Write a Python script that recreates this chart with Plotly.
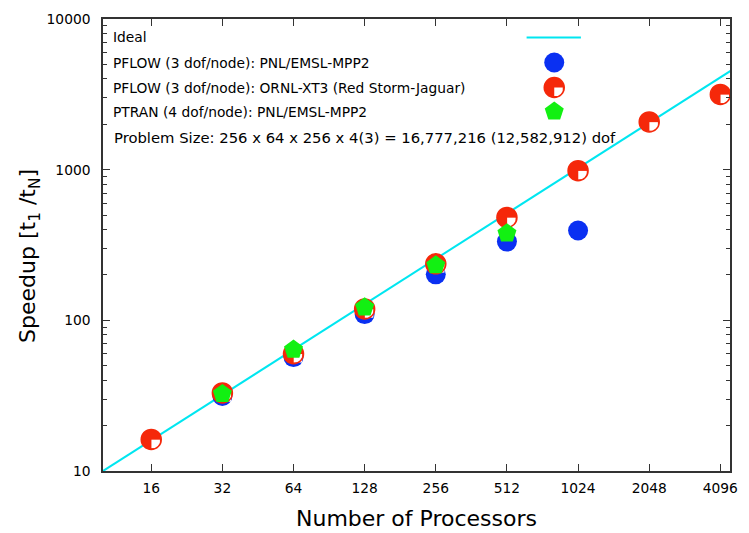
import math
import plotly.graph_objects as go

# ---------------- data ----------------
procs_mpp2 = [32, 64, 128, 256, 512, 1024]
speedup_pflow_mpp2 = [31.5, 57, 110, 202, 333, 395]

procs_xt3 = [16, 32, 64, 128, 256, 512, 1024, 2048, 4096]
speedup_pflow_xt3 = [16.2, 33, 60, 119, 237, 482, 985, 2075, 3160]

procs_ptran = [32, 64, 128, 256, 512]
speedup_ptran = [32.5, 64, 122, 232, 378]

ideal_procs = [1, 10000]
ideal_speedup = [1, 10000]

x_tick_vals = [16, 32, 64, 128, 256, 512, 1024, 2048, 4096]
x_tick_text = ["16", "32", "64", "128", "256", "512", "1024", "2048", "4096"]
y_tick_vals = [10, 100, 1000, 10000]
y_tick_text = ["10", "100", "1000", "10000"]
y_minor_vals = [m * d for d in (10, 100, 1000) for m in range(2, 10)]

legend_labels = [
    "Ideal",
    "PFLOW (3 dof/node): PNL/EMSL-MPP2",
    "PFLOW (3 dof/node): ORNL-XT3 (Red Storm-Jaguar)",
    "PTRAN (4 dof/node): PNL/EMSL-MPP2",
]
note_text = "Problem Size: 256 x 64 x 256 x 4(3) = 16,777,216 (12,582,912) dof"
x_title = "Number of Processors"
y_title = "Speedup [t<sub>1</sub> /t<sub>N</sub>]"

# ---------------- style ----------------
W, H = 749, 533
ML, MR, MT, MB = 103, 11, 19, 62
PW, PH = W - ML - MR, H - MT - MB
FONT = "DejaVu Sans"
BLUE = "#0a30f2"
RED = "#f5280a"
GREEN = "#12f012"
CYAN = "#00e6f0"
AXC = "#333333"

XR = [math.log10(10), math.log10(4500)]
YR = [1, 4]
QS = 4.5  # pixel shift of white quadrant
dx = QS * (XR[1] - XR[0]) / PW
dy = QS * (YR[1] - YR[0]) / PH

fig = go.Figure()

fig.add_trace(go.Scatter(x=ideal_procs, y=ideal_speedup, mode="lines",
                         line=dict(color=CYAN, width=2), showlegend=False,
                         xaxis="x", yaxis="y"))
fig.add_trace(go.Scatter(x=procs_mpp2, y=speedup_pflow_mpp2, mode="markers",
                         marker=dict(symbol="circle", size=20, color=BLUE, line=dict(width=0)),
                         showlegend=False, xaxis="x", yaxis="y"))
fig.add_trace(go.Scatter(x=procs_xt3, y=speedup_pflow_xt3, mode="markers",
                         marker=dict(symbol="circle", size=20, color=RED, line=dict(width=0)),
                         showlegend=False, xaxis="x", yaxis="y"))
# white quadrant (shifted overlay axes)
fig.add_trace(go.Scatter(x=procs_xt3, y=speedup_pflow_xt3, mode="markers",
                         marker=dict(symbol="square", size=8.5, color="white", line=dict(width=0)),
                         showlegend=False, xaxis="x2", yaxis="y2"))
# red outline + green on unshifted overlay axes
fig.add_trace(go.Scatter(x=procs_xt3, y=speedup_pflow_xt3, mode="markers",
                         marker=dict(symbol="circle-open", size=20, color=RED, line=dict(width=1.5, color=RED)),
                         showlegend=False, xaxis="x3", yaxis="y3"))
fig.add_trace(go.Scatter(x=procs_ptran, y=speedup_ptran, mode="markers",
                         marker=dict(symbol="pentagon", size=20, color=GREEN, line=dict(width=0)),
                         showlegend=False, xaxis="x3", yaxis="y3"))

axis_common = dict(showline=True, linecolor=AXC, linewidth=1.5, mirror="ticks",
                   ticks="inside", ticklen=7, tickwidth=1.2, tickcolor=AXC,
                   showgrid=False, zeroline=False,
                   tickfont=dict(family=FONT, size=13.8, color="black"))

fig.update_layout(
    width=W, height=H,
    margin=dict(l=ML, r=MR, t=MT, b=MB, pad=0),
    paper_bgcolor="white", plot_bgcolor="white",
    showlegend=False,
    xaxis=dict(type="log", range=XR, tickmode="array", tickvals=x_tick_vals,
               ticktext=x_tick_text, ticklabelstandoff=4, **axis_common),
    yaxis=dict(type="log", range=YR, tickmode="array", tickvals=y_tick_vals,
               ticktext=y_tick_text, ticklabelstandoff=8,
               minor=dict(ticks="inside", ticklen=4, tickwidth=1.2, tickcolor=AXC,
                          tickmode="array", tickvals=y_minor_vals, showgrid=False),
               **axis_common),
    xaxis2=dict(type="log", range=[XR[0] - dx, XR[1] - dx], overlaying="x", anchor="y2", visible=False),
    yaxis2=dict(type="log", range=[YR[0] + dy, YR[1] + dy], overlaying="y", anchor="x2", visible=False),
    xaxis3=dict(type="log", range=XR, overlaying="x", anchor="y3", visible=False),
    yaxis3=dict(type="log", range=YR, overlaying="y", anchor="x3", visible=False),
)

def px(x):
    return (x - ML) / PW

def py(y):
    return (MT + PH - y) / PH

# legend text
rows_y = [37.5, 62.5, 87.5, 111.5]
for lab, yy in zip(legend_labels, rows_y):
    fig.add_annotation(x=px(111), y=py(yy), xref="paper", yref="paper", text=lab,
                       showarrow=False, xanchor="left", yanchor="middle",
                       font=dict(family=FONT, size=13.8, color="black"))
fig.add_annotation(x=px(112), y=py(137), xref="paper", yref="paper", text=note_text,
                   showarrow=False, xanchor="left", yanchor="middle",
                   font=dict(family=FONT, size=14.8, color="black"))

# legend keys
kx = px(560)
shapes = []
shapes.append(dict(type="line", xref="paper", yref="paper", x0=px(532), x1=px(587),
                   y0=py(rows_y[0]), y1=py(rows_y[0]), line=dict(color=CYAN, width=2)))
def circ(yy, color, fill=True, lw=0):
    return dict(type="circle", xref="paper", yref="paper", xsizemode="pixel", ysizemode="pixel",
                xanchor=kx, yanchor=py(yy), x0=-10, x1=10, y0=-10, y1=10,
                fillcolor=color if fill else "rgba(0,0,0,0)",
                line=dict(color=color, width=lw))
shapes.append(circ(rows_y[1], BLUE))
shapes.append(circ(rows_y[2], RED))
shapes.append(dict(type="rect", xref="paper", yref="paper", xsizemode="pixel", ysizemode="pixel",
                   xanchor=kx, yanchor=py(rows_y[2]), x0=0, x1=8.5, y0=0, y1=-8.5,
                   fillcolor="white", line=dict(width=0)))
shapes.append(circ(rows_y[2], RED, fill=False, lw=1.5))
shapes.append(dict(type="path", xref="paper", yref="paper", xsizemode="pixel", ysizemode="pixel",
                   xanchor=kx, yanchor=py(rows_y[3]),
                   path="M 0,10 L -9.51,3.09 L -5.88,-8.09 L 5.88,-8.09 L 9.51,3.09 Z",
                   fillcolor=GREEN, line=dict(width=0)))
fig.update_layout(shapes=shapes)

# axis titles
fig.add_annotation(x=px(420), y=py(518), xref="paper", yref="paper", text=x_title,
                   showarrow=False, xanchor="center", yanchor="middle",
                   font=dict(family=FONT, size=22, color="black"))
fig.add_annotation(x=px(28), y=py(256), xref="paper", yref="paper", text=y_title,
                   showarrow=False, xanchor="center", yanchor="middle", textangle=-90,
                   font=dict(family=FONT, size=22, color="black"))

fig.write_html("out.html", config={"displayModeBar": False},
               post_script="document.body.style.margin='0';document.body.style.overflow='hidden';")
